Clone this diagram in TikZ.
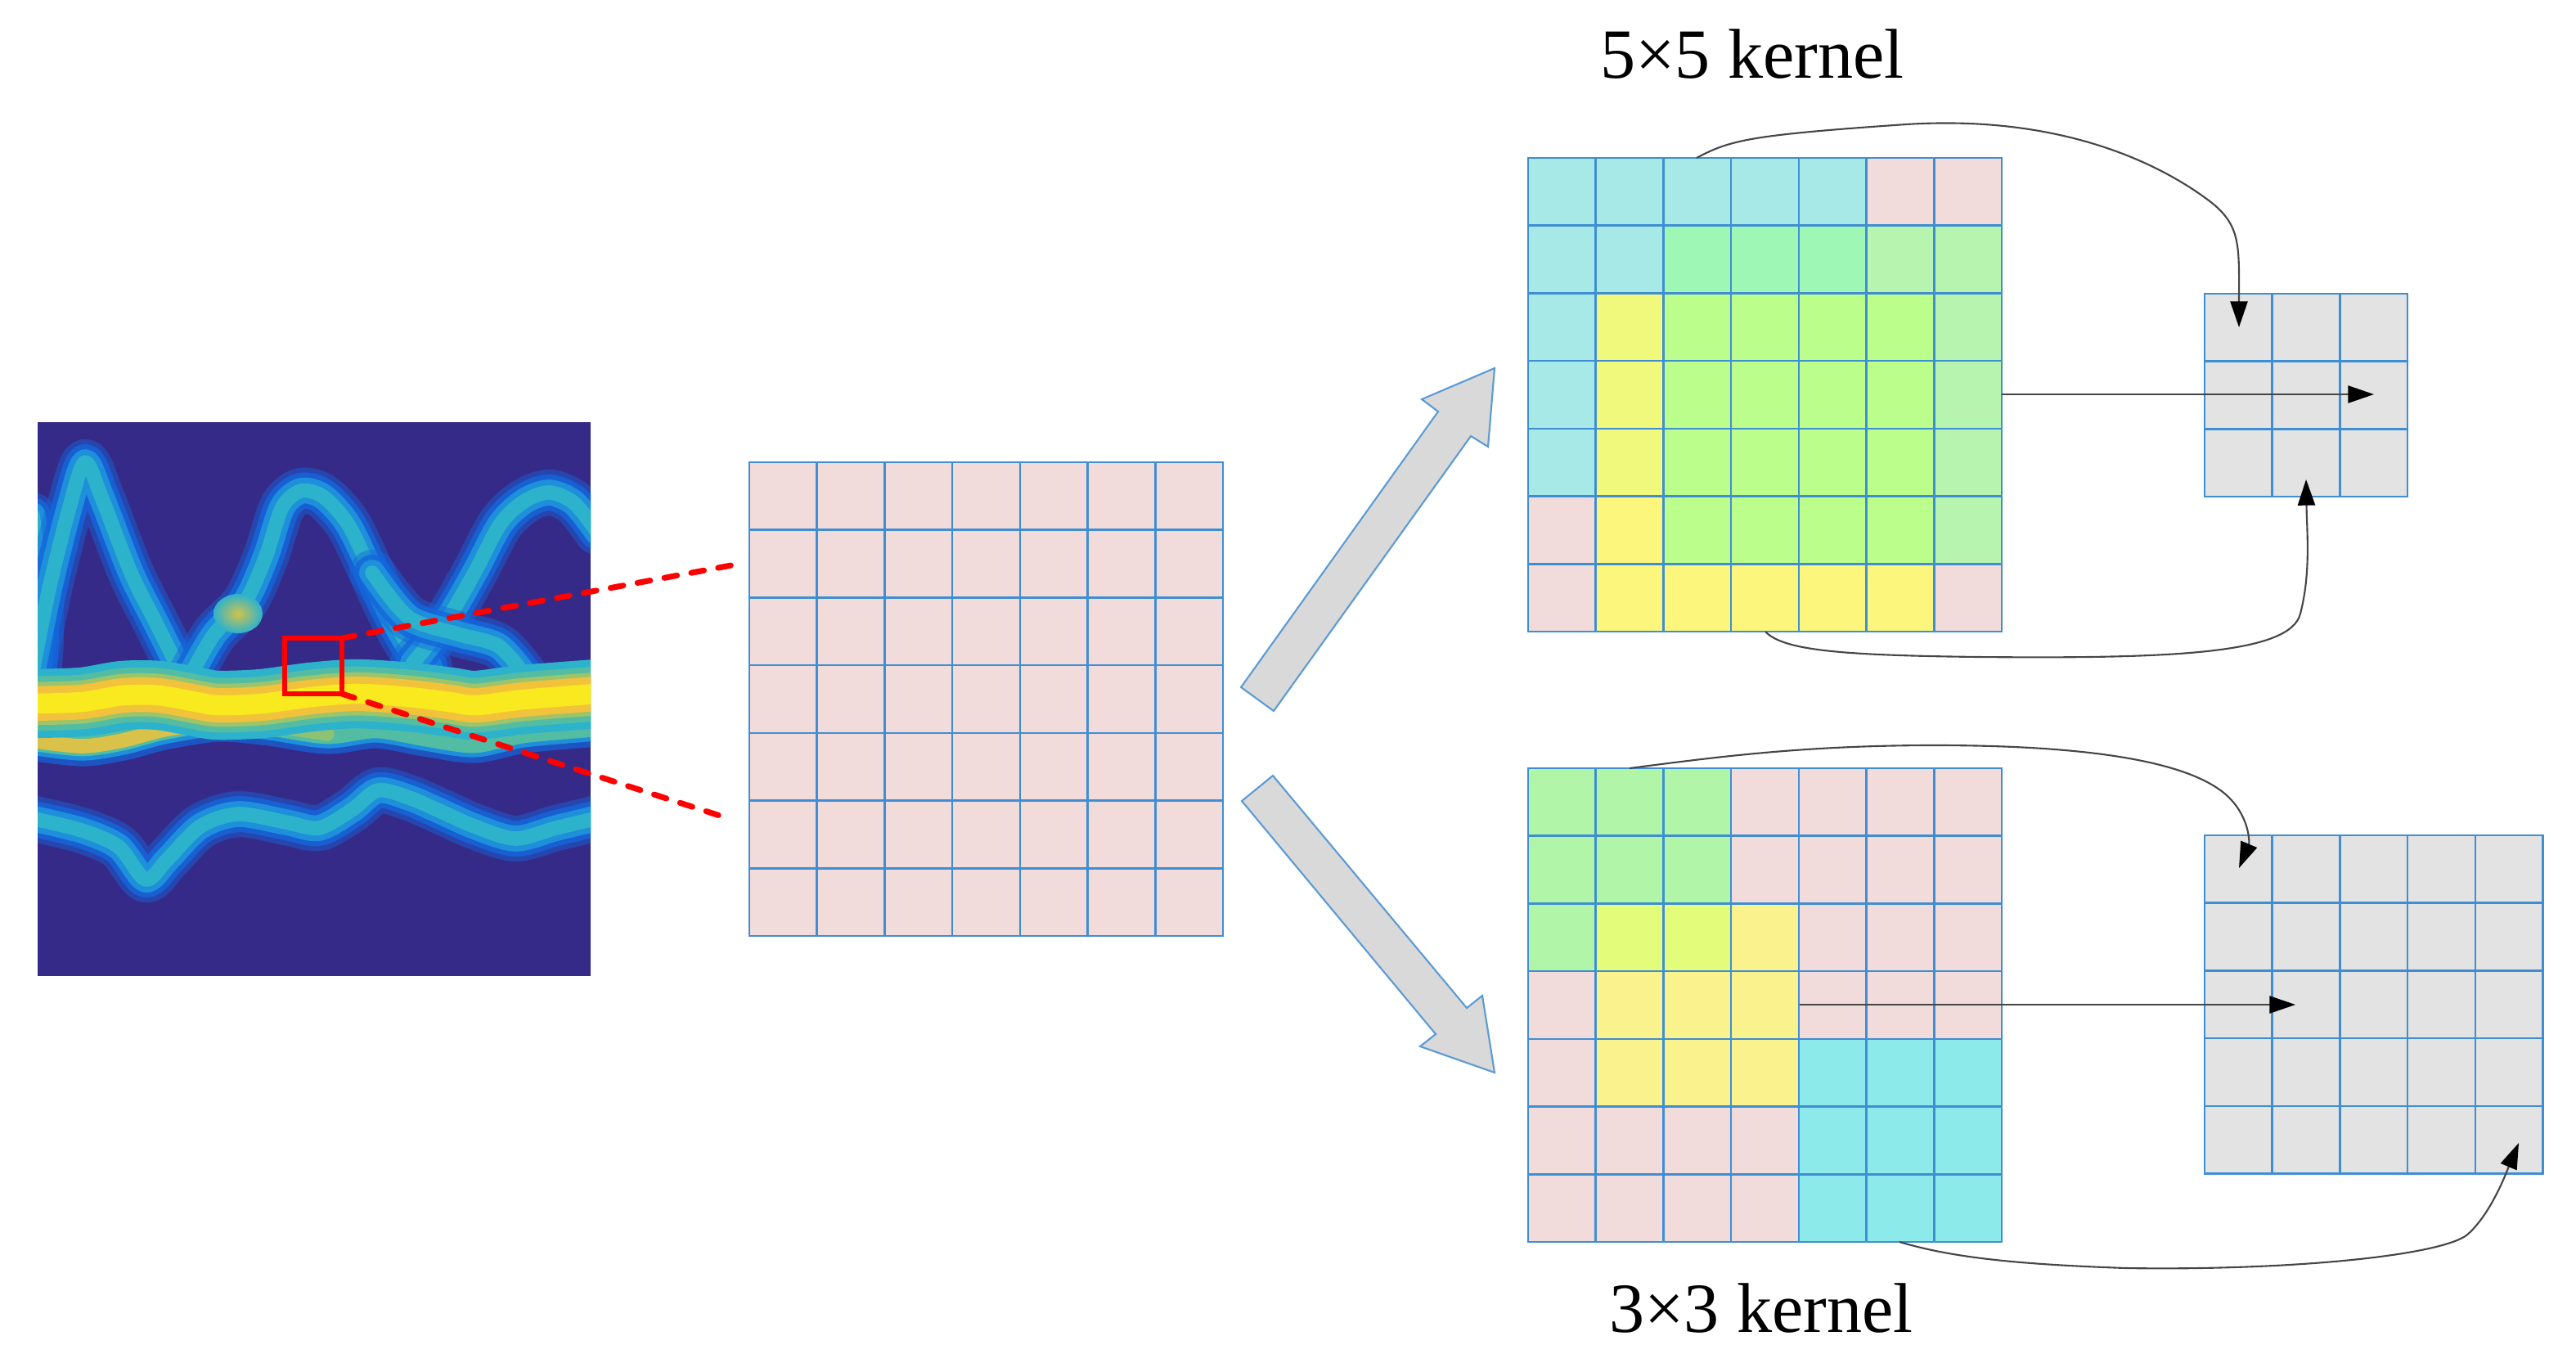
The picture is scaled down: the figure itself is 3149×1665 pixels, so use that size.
\documentclass[tikz,border=0pt]{standalone}
\usepackage{fontspec}
\setmainfont{Liberation Serif}
\usetikzlibrary{arrows.meta}
\definecolor{pinkc}{HTML}{F2DCDB}
\definecolor{gridblue}{HTML}{3F8ED3}
\definecolor{cyanc}{HTML}{A6E9E6}
\definecolor{mintc}{HTML}{9EF7B4}
\definecolor{lgreenc}{HTML}{B6F4B0}
\definecolor{yelc}{HTML}{F0F97C}
\definecolor{yeltwoc}{HTML}{FCF67C}
\definecolor{limec}{HTML}{BBFE8B}
\definecolor{bgreenc}{HTML}{B0F5A8}
\definecolor{bygc}{HTML}{E3FC7A}
\definecolor{byelc}{HTML}{FAF28C}
\definecolor{bcyanc}{HTML}{8CEAEA}
\definecolor{grayc}{HTML}{E3E3E3}
\definecolor{arrowgray}{HTML}{D9D9D9}
\definecolor{arrowblue}{HTML}{5B9BD5}
\definecolor{connc}{HTML}{454545}
\definecolor{hmbg}{HTML}{352A87}
\definecolor{hmblue}{HTML}{1466DC}
\definecolor{hmlblue}{HTML}{1E8FDA}
\definecolor{hmcyan}{HTML}{2DB2CC}
\definecolor{hmteal}{HTML}{52BDA2}
\definecolor{hmgreen}{HTML}{9CC46A}
\definecolor{hmorange}{HTML}{F2C23A}
\definecolor{hmyellow}{HTML}{F8EA1E}
\def\cs{82.7}
\newcommand{\cellrow}[4]{%
  \foreach \cc [count=\k from 0] in {#4} {\fill[\cc] ({#1+\k*\cs},{#2+#3*\cs}) rectangle +(\cs,\cs);}}
\newcommand{\cellgrid}[4]{%
  \foreach \k in {0,...,#3} {\draw[gridline] ({#1+\k*\cs},#2) -- ({#1+\k*\cs},{#2+#4*\cs});}
  \foreach \k in {0,...,#4} {\draw[gridline] (#1,{#2+\k*\cs}) -- ({#1+#3*\cs},{#2+\k*\cs});}}
\newcommand{\cyantube}[1]{%
  \draw[line width=16pt, hmblue, opacity=0.45] plot[smooth] coordinates {#1};
  \draw[line width=12.5pt, hmblue, opacity=0.8] plot[smooth] coordinates {#1};
  \draw[line width=9pt, hmlblue] plot[smooth] coordinates {#1};
  \draw[line width=5pt, hmcyan] plot[smooth] coordinates {#1};}
\begin{document}
\begin{tikzpicture}[x=0.01cm,y=-0.01cm,
  gridline/.style={draw=gridblue, line width=0.75pt, line cap=rect},
  conn/.style={draw=connc, line width=0.6pt, -{Triangle[length=9pt,width=6pt,color=black]}},
  bigarrow/.style={fill=arrowgray, draw=arrowblue, line width=0.6pt, line join=miter},
  label/.style={font=\fontsize{24.5}{29}\selectfont, inner sep=0pt, anchor=base},
  zoombox/.style={draw=red, line width=1.5pt},
  zoomline/.style={draw=red, line width=2pt, line cap=round, dash pattern=on 4.5pt off 5pt}]
\useasboundingbox (0,0) rectangle (3149,1665);

% ---------------- heat map ----------------
\begin{scope}
\clip (46,516) rectangle (722,1193);
\fill[hmbg] (46,516) rectangle (722,1193);
\begin{scope}[line cap=round, line join=round]
% left edge band
\cyantube{(40,630) (48,700) (50,780) (46,830)}
% left hump
\cyantube{(40,820) (60,720) (85,620) (104,565) (125,610) (160,700) (190,760) (215,810)}
% middle hump
\cyantube{(233,825) (262,775) (300,735) (325,680) (345,620) (368,600) (395,607) (425,640) (452,695) (475,745) (500,790) (525,815)}
% right hump
\cyantube{(505,810) (545,760) (580,700) (612,640) (642,612) (672,602) (702,615) (730,650)}
% crossing arc
\cyantube{(455,700) (500,755) (560,775) (610,790) (645,830)}
% lower cyan band
\cyantube{(38,1000) (100,1015) (145,1035) (178,1075) (205,1050) (245,1010) (291,995) (350,1005) (390,1012) (430,990) (462,966) (500,975) (535,990) (580,1010) (630,1025) (680,1012) (730,1000)}
% second band below main
\draw[line width=14pt, hmblue, opacity=0.7] plot[smooth] coordinates {(38,905) (100,912) (150,905) (200,892) (267,882) (330,887) (400,897) (460,890) (520,900) (580,908) (640,896) (730,888)};
\draw[line width=10pt, hmlblue] plot[smooth] coordinates {(38,905) (100,912) (150,905) (200,892) (267,882) (330,887) (400,897) (460,890) (520,900) (580,908) (640,896) (730,888)};
\draw[line width=7pt, hmteal] plot[smooth] coordinates {(38,905) (100,912) (150,905) (200,892) (267,882) (330,887) (400,897) (460,890) (520,900) (580,908) (640,896) (730,888)};
\draw[line width=5pt, hmorange, opacity=0.85] plot[smooth] coordinates {(38,905) (100,912) (150,905) (200,892) (250,885)};
\draw[line width=5pt, hmgreen, opacity=0.8] plot[smooth] coordinates {(250,885) (330,887) (400,897)};
% green blob
\shade[inner color=hmorange!60!hmgreen, outer color=hmcyan] (291,750) ellipse (30 and 24);
% main band
\draw[line width=24pt, hmcyan] plot[smooth] coordinates {(38,860) (100,858) (150,850) (194,850) (240,858) (267,862) (320,860) (380,852) (436,848) (500,852) (550,858) (582,862) (640,855) (730,848)};
\draw[line width=19pt, hmteal] plot[smooth] coordinates {(38,860) (100,858) (150,850) (194,850) (240,858) (267,862) (320,860) (380,852) (436,848) (500,852) (550,858) (582,862) (640,855) (730,848)};
\draw[line width=15pt, hmgreen] plot[smooth] coordinates {(38,860) (100,858) (150,850) (194,850) (240,858) (267,862) (320,860) (380,852) (436,848) (500,852) (550,858) (582,862) (640,855) (730,848)};
\draw[line width=12pt, hmorange] plot[smooth] coordinates {(38,860) (100,858) (150,850) (194,850) (240,858) (267,862) (320,860) (380,852) (436,848) (500,852) (550,858) (582,862) (640,855) (730,848)};
\draw[line width=7pt, hmyellow] plot[smooth] coordinates {(38,860) (100,858) (150,850) (194,850) (240,858) (267,862) (320,860) (380,852) (436,848) (500,852) (550,858) (582,862) (640,855) (730,848)};
\end{scope}
\end{scope}

% zoom box and dashed lines
\coordinate (rbnw) at (348,780);
\coordinate (rbne) at (418,780);
\coordinate (rbse) at (418,848);
\coordinate (zu) at (894,691);
\coordinate (zl) at (880,997);
\draw[zoombox] (rbnw) rectangle (rbse);
\draw[zoomline] (rbne) -- (zu);
\draw[zoomline] (rbse) -- (zl);

% ---------------- middle grid ----------------
\fill[pinkc] (916,565) rectangle +(579,579);
\cellgrid{916}{565}{7}{7}

% ---------------- big arrows ----------------
\draw[bigarrow] (1517,840) -- (1557,869) -- (1798,533) -- (1819,546) -- (1827,450) -- (1738,488) -- (1758,503) -- cycle;
\draw[bigarrow] (1518,979) -- (1556,948) -- (1793,1232) -- (1812,1217) -- (1827,1311) -- (1736,1279) -- (1755,1264) -- cycle;

% ---------------- top-right grid (5x5 kernel) ----------------
\cellrow{1868}{193}{0}{cyanc,cyanc,cyanc,cyanc,cyanc,pinkc,pinkc}
\cellrow{1868}{193}{1}{cyanc,cyanc,mintc,mintc,mintc,lgreenc,lgreenc}
\cellrow{1868}{193}{2}{cyanc,yelc,limec,limec,limec,limec,lgreenc}
\cellrow{1868}{193}{3}{cyanc,yelc,limec,limec,limec,limec,lgreenc}
\cellrow{1868}{193}{4}{cyanc,yelc,limec,limec,limec,limec,lgreenc}
\cellrow{1868}{193}{5}{pinkc,yeltwoc,limec,limec,limec,limec,lgreenc}
\cellrow{1868}{193}{6}{pinkc,yeltwoc,yeltwoc,yeltwoc,yeltwoc,yeltwoc,pinkc}
\cellgrid{1868}{193}{7}{7}

% ---------------- bottom-right grid (3x3 kernel) ----------------
\cellrow{1868}{939}{0}{bgreenc,bgreenc,bgreenc,pinkc,pinkc,pinkc,pinkc}
\cellrow{1868}{939}{1}{bgreenc,bgreenc,bgreenc,pinkc,pinkc,pinkc,pinkc}
\cellrow{1868}{939}{2}{bgreenc,bygc,bygc,byelc,pinkc,pinkc,pinkc}
\cellrow{1868}{939}{3}{pinkc,byelc,byelc,byelc,pinkc,pinkc,pinkc}
\cellrow{1868}{939}{4}{pinkc,byelc,byelc,byelc,bcyanc,bcyanc,bcyanc}
\cellrow{1868}{939}{5}{pinkc,pinkc,pinkc,pinkc,bcyanc,bcyanc,bcyanc}
\cellrow{1868}{939}{6}{pinkc,pinkc,pinkc,pinkc,bcyanc,bcyanc,bcyanc}
\cellgrid{1868}{939}{7}{7}

% ---------------- output grids ----------------
\fill[grayc] (2695,359) rectangle +(248.1,248.1);
\cellgrid{2695}{359}{3}{3}
\fill[grayc] (2695,1021) rectangle +(413.5,413.5);
\cellgrid{2695}{1021}{5}{5}

% ---------------- labels ----------------
\node[label] (lab5) at (2142,95) {5×5 kernel};
\node[label] (lab3) at (2153,1628) {3×3 kernel};

% ---------------- connectors, top ----------------
\coordinate (tA) at (2074,193);
\coordinate (tAe) at (2737,400);
\coordinate (tB) at (2447,482);
\coordinate (tBe) at (2902,482);
\coordinate (tC) at (2158,772);
\coordinate (tCe) at (2819,586);
\draw[conn] (tA) .. controls (2115,171) and (2140,165) .. (2330,152) .. controls (2520,140) and (2640,200) .. (2700,245) .. controls (2740,275) and (2737,300) .. (tAe);
\draw[conn] (tB) -- (tBe);
\draw[conn] (tC) .. controls (2180,795) and (2250,801) .. (2420,803) .. controls (2650,805) and (2800,800) .. (2812,750) .. controls (2825,700) and (2820,650) .. (tCe);

% ---------------- connectors, bottom ----------------
\coordinate (bA) at (1992,939);
\coordinate (bAe) at (2737,1061);
\coordinate (bB) at (2200,1228);
\coordinate (bBe) at (2806,1228);
\coordinate (bC) at (2322,1518);
\coordinate (bCe) at (3079,1397);
\draw[conn] (bA) .. controls (2100,925) and (2200,912) .. (2350,911) .. controls (2550,910) and (2680,930) .. (2725,975) .. controls (2750,1000) and (2750,1030) .. (bAe);
\draw[conn] (bB) -- (bBe);
\draw[conn] (bC) .. controls (2380,1535) and (2450,1545) .. (2600,1550) .. controls (2800,1553) and (2980,1535) .. (3015,1510) .. controls (3045,1485) and (3065,1430) .. (bCe);
\end{tikzpicture}
\end{document}
